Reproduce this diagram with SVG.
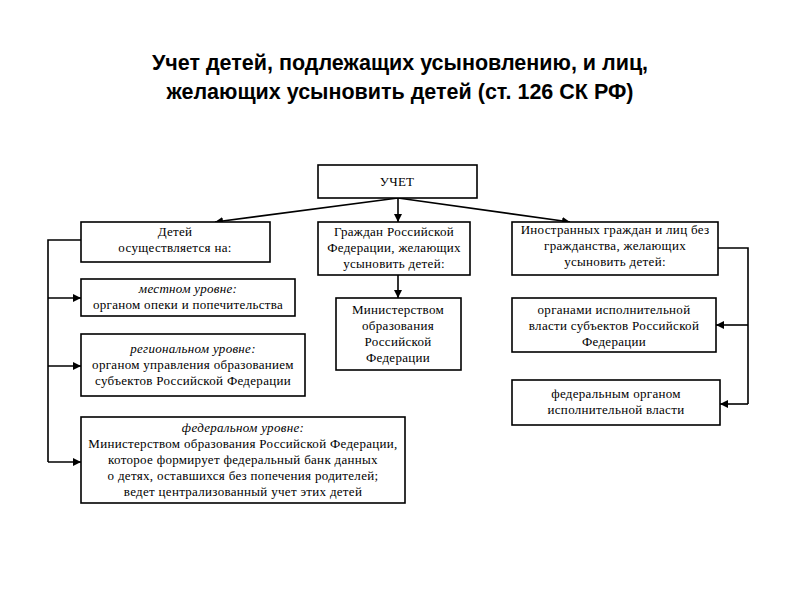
<svg xmlns="http://www.w3.org/2000/svg" width="800" height="600" viewBox="0 0 800 600">
<defs>
<marker id="ah" viewBox="0 0 10 10" refX="10" refY="5" markerWidth="8" markerHeight="8" orient="auto" markerUnits="userSpaceOnUse">
<path d="M0,0 L10,5 L0,10 z" fill="#000"/>
</marker>
</defs>
<style>
.title{font-family:"Liberation Sans",Arial,sans-serif;font-weight:bold;font-size:21.5px;fill:#000;text-anchor:middle}
.box{fill:#fff;stroke:#000;stroke-width:1.6}
.t{font-family:"Liberation Serif","Times New Roman","DejaVu Serif",serif;font-size:13px;letter-spacing:0.3px;fill:#000;text-anchor:middle}
.i{font-style:italic}
.c{fill:none;stroke:#000;stroke-width:1.6}
</style>
<rect width="800" height="600" fill="#fff"/>
<text class="title" x="400" y="70">Учет детей, подлежащих усыновлению, и лиц,</text>
<text class="title" x="400" y="99">желающих усыновить детей (ст. 126 СК РФ)</text>

<g id="connectors">
<path class="c" d="M398,198 L215,222" marker-end="url(#ah)"/>
<path class="c" d="M398,198 L398,222" marker-end="url(#ah)"/>
<path class="c" d="M398,198 L570,222" marker-end="url(#ah)"/>
<path class="c" d="M398,275 L398,298" marker-end="url(#ah)"/>
<path class="c" d="M81,240 L48,240 L48,462"/>
<path class="c" d="M48,298 L81,298" marker-end="url(#ah)"/>
<path class="c" d="M48,366 L81,366" marker-end="url(#ah)"/>
<path class="c" d="M48,462 L81,462" marker-end="url(#ah)"/>
<path class="c" d="M718,248 L748,248 L748,404"/>
<path class="c" d="M748,325 L716,325" marker-end="url(#ah)"/>
<path class="c" d="M748,404 L720,404" marker-end="url(#ah)"/>
</g>

<g id="uchet">
<rect class="box" x="318" y="165" width="159" height="33"/>
<text class="t" x="397" y="186">УЧЕТ</text>
</g>
<g id="deti">
<rect class="box" x="81" y="222" width="189" height="40"/>
<text class="t" x="175" y="236">Детей</text>
<text class="t" x="175" y="252">осуществляется на:</text>
</g>
<g id="grazhdan">
<rect class="box" x="318" y="222" width="152" height="53"/>
<text class="t" x="394" y="236">Граждан Российской</text>
<text class="t" x="394" y="252">Федерации,  желающих</text>
<text class="t" x="394" y="268">усыновить детей:</text>
</g>
<g id="inostr">
<rect class="box" x="512" y="222" width="206" height="53"/>
<text class="t" x="615" y="234">Иностранных граждан и лиц без</text>
<text class="t" x="615" y="250">гражданства, желающих</text>
<text class="t" x="615" y="266">усыновить детей:</text>
</g>
<g id="mestnyi">
<rect class="box" x="81" y="279" width="214" height="37"/>
<text class="t i" x="188" y="293">местном уровне:</text>
<text class="t" x="188" y="309">органом опеки и попечительства</text>
</g>
<g id="regionalnyi">
<rect class="box" x="81" y="334" width="224" height="62"/>
<text class="t i" x="193" y="353">региональном уровне:</text>
<text class="t" x="193" y="369">органом управления образованием</text>
<text class="t" x="193" y="385">субъектов Российской Федерации</text>
</g>
<g id="federalnyi">
<rect class="box" x="81" y="417" width="324" height="86"/>
<text class="t i" x="243" y="432">федеральном уровне:</text>
<text class="t" x="243" y="448">Министерством образования Российской Федерации,</text>
<text class="t" x="243" y="464">которое формирует федеральный банк данных</text>
<text class="t" x="243" y="480">о детях, оставшихся без попечения родителей;</text>
<text class="t" x="243" y="496">ведет централизованный учет этих детей</text>
</g>
<g id="ministerstvo">
<rect class="box" x="336" y="298" width="125" height="72"/>
<text class="t" x="398" y="314">Министерством</text>
<text class="t" x="398" y="330">образования</text>
<text class="t" x="398" y="346">Российской</text>
<text class="t" x="398" y="362">Федерации</text>
</g>
<g id="organy">
<rect class="box" x="512" y="298" width="204" height="54"/>
<text class="t" x="614" y="314">органами исполнительной</text>
<text class="t" x="614" y="330">власти субъектов Российской</text>
<text class="t" x="614" y="346">Федерации</text>
</g>
<g id="federalnyi-organ">
<rect class="box" x="512" y="380" width="208" height="45"/>
<text class="t" x="616" y="398">федеральным органом</text>
<text class="t" x="616" y="414">исполнительной власти</text>
</g>
</svg>
